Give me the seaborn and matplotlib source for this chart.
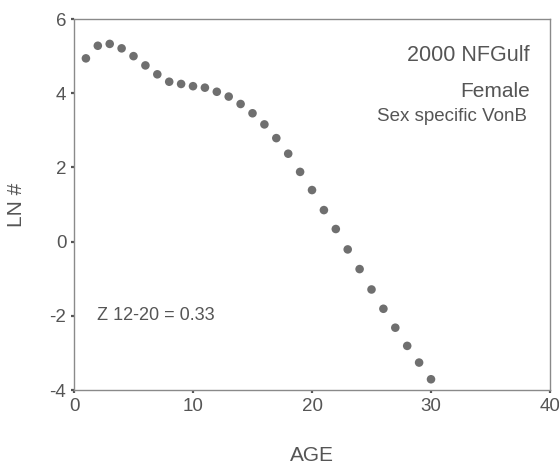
import matplotlib
matplotlib.use("Agg")
import matplotlib.pyplot as plt
import seaborn as sns
import pandas as pd

# Log numbers at age, 2000 NFGulf females
age = list(range(1, 31))
ln_n = [4.94, 5.28, 5.33, 5.21, 5.00, 4.75, 4.51, 4.31, 4.25, 4.19,
        4.15, 4.04, 3.91, 3.71, 3.46, 3.16, 2.79, 2.37, 1.88, 1.39,
        0.85, 0.34, -0.21, -0.74, -1.29, -1.81, -2.32, -2.81, -3.26, -3.71]

x_ticks = [0, 10, 20, 30, 40]
y_ticks = [-4, -2, 0, 2, 4, 6]

df = pd.DataFrame({"AGE": age, "LN #": ln_n})

sns.set_style("ticks")
plt.rcParams["font.family"] = ["Liberation Sans", "DejaVu Sans"]
plt.rcParams["axes.unicode_minus"] = False

text_col = "#555555"
frame_col = "#8a8a8a"

fig = plt.figure(figsize=(5.59, 4.69), dpi=100)
ax = fig.add_axes([0.1324, 0.1684, 0.8515, 0.791])

sns.scatterplot(data=df, x="AGE", y="LN #", ax=ax, s=38, color="#6f6f6f",
                edgecolor="none", linewidth=0)

ax.set_xlim(0, 40)
ax.set_ylim(-4, 6)
ax.set_xticks(x_ticks)
ax.set_yticks(y_ticks)

for side in ["left", "bottom", "top", "right"]:
    ax.spines[side].set_visible(True)
    ax.spines[side].set_color(frame_col)
    ax.spines[side].set_linewidth(1.0)

ax.tick_params(axis="both", direction="out", length=2.5, width=1.6,
               color="#555555", labelsize=13.5, labelcolor=text_col, pad=3)

ax.set_xlabel("AGE", fontsize=15, color=text_col)
ax.set_ylabel("LN #", fontsize=15, color=text_col)
ax.xaxis.set_label_coords(0.5, -0.150)
ax.yaxis.set_label_coords(-0.100, 0.5)

ax.text(0.958, 0.903, "2000 NFGulf", transform=ax.transAxes, ha="right",
        va="center", fontsize=15.5, color=text_col)
ax.text(0.958, 0.806, "Female", transform=ax.transAxes, ha="right",
        va="center", fontsize=15, color=text_col)
ax.text(0.952, 0.736, "Sex specific VonB", transform=ax.transAxes, ha="right",
        va="center", fontsize=13.5, color=text_col)
ax.text(0.048, 0.202, "Z 12-20 = 0.33", transform=ax.transAxes, ha="left",
        va="center", fontsize=13, color=text_col)

fig.savefig("out.png", dpi=100)
